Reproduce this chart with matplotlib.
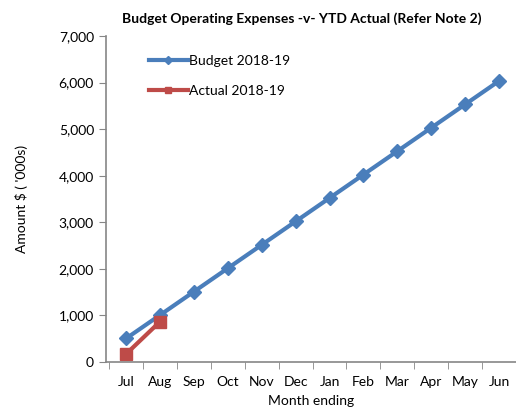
import matplotlib.pyplot as plt
import numpy as np

plt.rcParams['font.family'] = ['Lato', 'DejaVu Sans']

months = ['Jul', 'Aug', 'Sep', 'Oct', 'Nov', 'Dec', 'Jan', 'Feb', 'Mar', 'Apr', 'May', 'Jun']
budget = [503, 1006, 1509, 2012, 2515, 3018, 3521, 4024, 4527, 5030, 5533, 6036]
actual = [170, 865]

fig = plt.figure(figsize=(5.16, 4.15), dpi=100)
ax = fig.add_axes([0.205, 0.128, 0.795, 0.785])

x = np.arange(len(months))
ax.plot(x, budget, color='#4a7ebb', lw=3, marker='D', ms=7, label='Budget 2018-19')
ax.plot(x[:len(actual)], actual, color='#be4b48', lw=3, marker='s', ms=8, label='Actual 2018-19')

ax.set_xlim(-0.6, 11.5)
ax.set_ylim(0, 7000)
ax.set_yticks(np.arange(0, 7001, 1000))
ax.set_yticklabels(['{:,}'.format(v) for v in range(0, 7001, 1000)])
ax.set_xticks(x)
ax.set_xticklabels(months)
ax.set_xticks(np.arange(-0.5, 11.6, 1), minor=True)
ax.tick_params(axis='x', which='major', length=0, pad=10)
ax.tick_params(axis='x', which='minor', length=5, color='#868686')
ax.tick_params(axis='y', length=5, color='#868686')
ax.tick_params(labelsize=10)

for s in ['top', 'right']:
    ax.spines[s].set_visible(False)
for s in ['left', 'bottom']:
    ax.spines[s].set_color('#868686')
    ax.spines[s].set_linewidth(1.2)

ax.set_xlabel('Month ending', fontsize=10, labelpad=5)
ax.set_ylabel("Amount $ ( '000s)", fontsize=10, labelpad=22)
fig.suptitle('Budget Operating Expenses -v- YTD Actual (Refer Note 2)', fontsize=10,
             fontweight='bold', x=0.585, y=0.97)

ax.legend(loc='upper left', bbox_to_anchor=(0.075, 0.98), frameon=False, fontsize=10,
          handlelength=2.8, handletextpad=0.05, labelspacing=1.3, markerscale=0.6)

fig.savefig('out.png', dpi=100)
